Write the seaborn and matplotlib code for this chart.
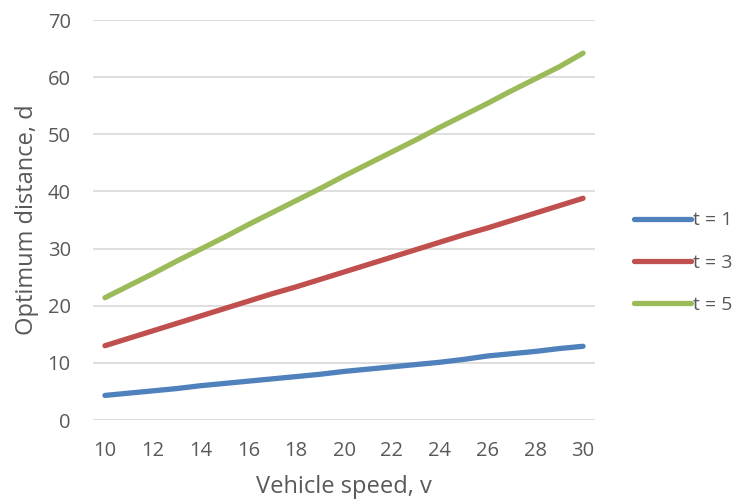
import matplotlib
matplotlib.use("Agg")
import matplotlib.pyplot as plt
import seaborn as sns
import pandas as pd

# Vehicle speed v and optimum distance d for three reaction times t
speed = list(range(10, 31))
d_t1 = [4.3, 4.7, 5.1, 5.5, 6.0, 6.4, 6.8, 7.2, 7.6, 8.0, 8.5,
        8.9, 9.3, 9.7, 10.1, 10.6, 11.2, 11.6, 12.0, 12.5, 12.9]
d_t3 = [13.0, 14.3, 15.6, 16.9, 18.2, 19.5, 20.8, 22.1, 23.3, 24.6, 25.9,
        27.2, 28.5, 29.8, 31.1, 32.4, 33.6, 34.9, 36.2, 37.5, 38.8]
d_t5 = [21.4, 23.5, 25.6, 27.8, 29.9, 32.0, 34.2, 36.3, 38.4, 40.5, 42.7,
        44.8, 46.9, 49.0, 51.2, 53.3, 55.4, 57.6, 59.7, 61.8, 64.2]
series_names = ["t = 1", "t = 3", "t = 5"]
x_ticks = list(range(10, 31, 2))
y_ticks = list(range(0, 71, 10))

frames = []
for name, vals in zip(series_names, [d_t1, d_t3, d_t5]):
    frames.append(pd.DataFrame({"v": speed, "d": vals, "series": name}))
df = pd.concat(frames, ignore_index=True)

sns.set_theme(style="white")
plt.rcParams["font.family"] = ["Open Sans", "DejaVu Sans"]

fig = plt.figure(figsize=(7.37, 5.01), dpi=100)
ax = fig.add_axes([93 / 737, 1 - 420 / 501, 502 / 737, 400 / 501])

palette = {"t = 1": "#4f81bd", "t = 3": "#c0504d", "t = 5": "#9bbb59"}
sns.lineplot(data=df, x="v", y="d", hue="series", palette=palette,
             linewidth=3.8, ax=ax, legend=True, zorder=3)
for line in ax.get_lines():
    line.set_solid_capstyle("round")
    line.set_solid_joinstyle("round")

ax.set_xlim(9.5, 30.5)
ax.set_ylim(0, 70)
ax.set_xticks(x_ticks)
ax.set_yticks(y_ticks)
ax.yaxis.grid(True, color="#d9d9d9", linewidth=1.2)
ax.xaxis.grid(False)
for s in ax.spines.values():
    s.set_visible(False)
ax.tick_params(axis="both", length=0, labelsize=14.5, labelcolor="#595959")
ax.tick_params(axis="x", pad=15)
ax.tick_params(axis="y", pad=16)

ax.set_xlabel("Vehicle speed, v", fontsize=17, color="#595959", labelpad=10)
ax.set_ylabel("Optimum distance, d", fontsize=17, color="#595959", labelpad=6)

leg = ax.legend(loc="center left", bbox_to_anchor=(1.063, 0.393), frameon=False,
                fontsize=14, handlelength=2.9, handletextpad=0.1,
                labelspacing=1.25, borderaxespad=0, title=None)
for t in leg.get_texts():
    t.set_color("#595959")
for h in leg.get_lines():
    h.set_linewidth(3.8)
    h.set_solid_capstyle("round")

fig.savefig("out.png", dpi=100)
